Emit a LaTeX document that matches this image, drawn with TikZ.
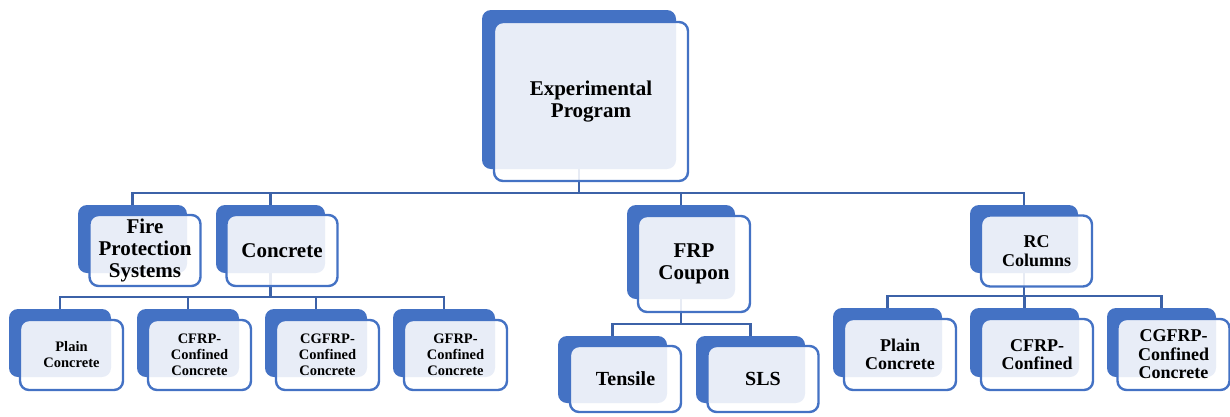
\documentclass[tikz,border=0pt]{standalone}
\usepackage{fontspec}
\setmainfont{Liberation Serif}
\pgfdeclarelayer{bg}
\pgfsetlayers{bg,main}
\definecolor{sablue}{HTML}{4472C4}
\definecolor{connblue}{HTML}{3C62A8}
\tikzset{
  bk/.style n args={2}{fill=sablue,draw=none,rounded corners=9pt,minimum width=#1,minimum height=#2,inner sep=0pt},
  fr/.style n args={2}{draw=sablue,line width=2.4pt,fill=white,fill opacity=0.88,text opacity=1,rounded corners=9pt,minimum width=#1,minimum height=#2,inner sep=0pt,align=center},
  conn/.style={draw=connblue,line width=2.6pt},
  fbig/.style={font=\fontsize{21}{22}\selectfont\bfseries},
  fmid/.style={font=\fontsize{18}{18.5}\selectfont\bfseries},
  fsml/.style={font=\fontsize{14.5}{16}\selectfont\bfseries},
  ften/.style={font=\fontsize{20}{21}\selectfont\bfseries},
}
\begin{document}
\begin{tikzpicture}[x=1pt,y=-1pt]
\useasboundingbox (0,0) rectangle (1230,416);
% level 1
\node[bk={194pt}{159pt}] (ep-b) at (579,89.5) {};
\node[fr={194pt}{159pt},fbig] (ep) at (591,101.5) {Experimental\\Program};
% level 2
\node[bk={109pt}{68pt}] (fps-b) at (132.5,239) {};
\node[fr={111pt}{71pt},fbig] (fps) at (145,250.5) {Fire\\Protection\\Systems};
\node[bk={109pt}{68pt}] (con-b) at (270.5,239) {};
\node[fr={111pt}{71pt},fbig] (con) at (282,250.5) {Concrete};
\node[bk={108pt}{94pt}] (frp-b) at (681,252) {};
\node[fr={112pt}{96pt},fbig] (frp) at (694,264) {FRP\\Coupon};
\node[bk={108pt}{68pt}] (rc-b) at (1024,239) {};
\node[fr={111pt}{71pt},fmid] (rc) at (1036.5,251) {RC\\Columns};
% concrete children
\node[bk={102pt}{68pt}] (c1-b) at (60,343) {};
\node[fr={103pt}{70pt},fsml] (c1) at (71.5,355) {Plain\\Concrete};
\node[bk={102pt}{68pt}] (c2-b) at (188,343) {};
\node[fr={103pt}{70pt},fsml] (c2) at (199.5,355) {CFRP-\\Confined\\Concrete};
\node[bk={102pt}{68pt}] (c3-b) at (316,343) {};
\node[fr={103pt}{70pt},fsml] (c3) at (327.5,355) {CGFRP-\\Confined\\Concrete};
\node[bk={102pt}{68pt}] (c4-b) at (444,343) {};
\node[fr={103pt}{70pt},fsml] (c4) at (455.5,355) {GFRP-\\Confined\\Concrete};
% FRP children
\node[bk={109pt}{67pt}] (f1-b) at (612.5,369.5) {};
\node[fr={111pt}{66pt},ften] (f1) at (625.5,379) {Tensile};
\node[bk={109pt}{67pt}] (f2-b) at (750.5,369.5) {};
\node[fr={111pt}{66pt},ften] (f2) at (763,379) {SLS};
% RC children
\node[bk={109pt}{69pt}] (r1-b) at (887.5,342.5) {};
\node[fr={112pt}{71pt},fmid] (r1) at (900,354.5) {Plain\\Concrete};
\node[bk={109pt}{69pt}] (r2-b) at (1024.5,342.5) {};
\node[fr={112pt}{71pt},fmid] (r2) at (1037,354.5) {CFRP-\\Confined};
\node[bk={109pt}{69pt}] (r3-b) at (1161.5,342.5) {};
\node[fr={112pt}{71pt},fmid] (r3) at (1173.5,354.5) {CGFRP-\\Confined\\Concrete};
% bus coordinates
\coordinate (bus1) at (0,193);
\coordinate (bus2) at (0,297);
\coordinate (bus3) at (0,324);
\coordinate (bus4) at (0,296);
\begin{pgfonlayer}{bg}
\draw[conn] (ep-b.south) -- (ep-b.south |- bus1);
\draw[conn] (fps-b.north) |- (rc-b.north |- bus1) -- (rc-b.north);
\draw[conn] (con-b.north) -- (con-b.north |- bus1);
\draw[conn] (frp-b.north) -- (frp-b.north |- bus1);
\draw[conn] (con-b.south) -- (con-b.south |- bus2);
\draw[conn] (c1-b.north) |- (c4-b.north |- bus2) -- (c4-b.north);
\draw[conn] (c2-b.north) -- (c2-b.north |- bus2);
\draw[conn] (c3-b.north) -- (c3-b.north |- bus2);
\draw[conn] (frp-b.south) -- (frp-b.south |- bus3);
\draw[conn] (f1-b.north) |- (f2-b.north |- bus3) -- (f2-b.north);
\draw[conn] (rc-b.south) -- (rc-b.south |- bus4);
\draw[conn] (r1-b.north) |- (r3-b.north |- bus4) -- (r3-b.north);
\draw[conn] (r2-b.north) -- (r2-b.north |- bus4);
\end{pgfonlayer}
\end{tikzpicture}
\end{document}
